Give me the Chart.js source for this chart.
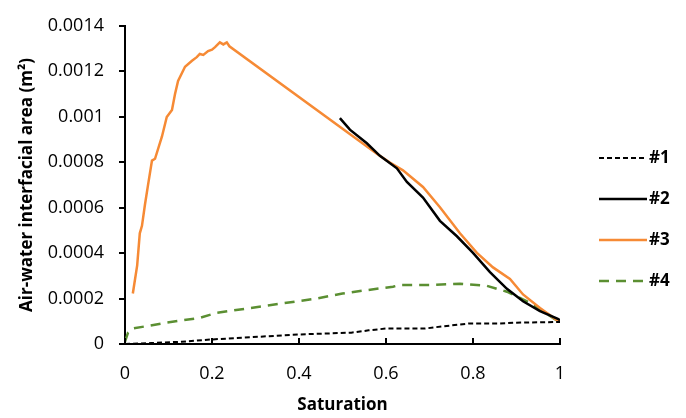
<!DOCTYPE html>
<html>
<head>
<meta charset="utf-8">
<script src="https://cdn.jsdelivr.net/npm/chart.js@4"></script>
<style>
  html, body { margin: 0; padding: 0; background: #fff; }
  #wrap { width: 686px; height: 418px; }
</style>
</head>
<body>
<div id="wrap"><canvas id="areaChart" width="686" height="418"></canvas></div>
<script>
// Series data (saturation vs. air-water interfacial area)
var labels = ["#1", "#2", "#3", "#4"];

var s1X = [0, 0.06, 0.13, 0.2, 0.29, 0.4, 0.52, 0.56, 0.6, 0.69, 0.71, 0.79, 0.86, 0.9, 1.0];
var s1Y = [0, 0.000004, 0.00001, 0.00002, 0.00003, 0.000042, 0.00005, 0.00006, 0.000068, 0.000068, 0.000073, 0.00009, 0.00009, 0.000094, 0.000097];

var s2X = [0.494, 0.517, 0.556, 0.586, 0.625, 0.648, 0.685, 0.724, 0.763, 0.8, 0.839, 0.878, 0.915, 0.954, 0.995, 1.0];
var s2Y = [0.000994, 0.000943, 0.000883, 0.000828, 0.000773, 0.000713, 0.000644, 0.000542, 0.000474, 0.000401, 0.000316, 0.000243, 0.000188, 0.000145, 0.000111, 0.000105];

var s3X = [0.018, 0.028, 0.034, 0.039, 0.046, 0.053, 0.062, 0.069, 0.085, 0.096, 0.108, 0.115, 0.122, 0.138, 0.154, 0.165, 0.172, 0.18, 0.191, 0.2, 0.207, 0.218, 0.226, 0.234, 0.24,
           0.579, 0.609, 0.639, 0.685, 0.724, 0.770, 0.809, 0.846, 0.885, 0.915, 0.954, 0.995, 1.0];
var s3Y = [0.000222, 0.000346, 0.000487, 0.00052, 0.000615, 0.0007, 0.000807, 0.000815, 0.000913, 0.000999, 0.00103, 0.0011, 0.001157, 0.00122, 0.001246, 0.001262, 0.001276, 0.001272, 0.001289, 0.001295, 0.001306, 0.001327, 0.001318, 0.001327, 0.00131,
           0.000837, 0.000798, 0.000764, 0.000691, 0.000602, 0.000487, 0.000401, 0.000337, 0.000286, 0.000218, 0.000158, 0.000102, 0.0001];

var s4X = [0, 0.007, 0.018, 0.096, 0.172, 0.21, 0.287, 0.363, 0.441, 0.5, 0.556, 0.616, 0.632, 0.708, 0.77, 0.832, 0.878, 0.924, 0.961, 0.995, 1.0];
var s4Y = [0.00001, 0.00005, 0.000068, 0.000094, 0.000115, 0.000137, 0.000158, 0.000179, 0.0002, 0.000222, 0.000237, 0.000252, 0.00026, 0.00026, 0.000265, 0.000256, 0.00023, 0.000188, 0.000145, 0.0001, 0.00009];

var xTicks = [0, 0.2, 0.4, 0.6, 0.8, 1];

function pts(xs, ys) {
    return xs.map(function (x, i) { return { x: x, y: ys[i] }; });
}

Chart.defaults.font.family = "'Open Sans', sans-serif";
Chart.defaults.color = "#000";

// x ticks point up into the plot, legend sits on the right
var extras = {
    id: 'extras',
    afterDraw: function (chart) {
        var ctx = chart.ctx;
        var xs = chart.scales.x;
        var area = chart.chartArea;
        ctx.save();
        ctx.strokeStyle = "#000";
        ctx.lineWidth = 2;
        xs.ticks.forEach(function (t) {
            var px = xs.getPixelForValue(t.value);
            ctx.beginPath();
            ctx.moveTo(px, area.bottom);
            ctx.lineTo(px, area.bottom - 6);
            ctx.stroke();
        });

        ctx.font = "bold 17px 'Open Sans', sans-serif";
        ctx.textBaseline = "middle";
        ctx.fillStyle = "#000";
        chart.data.datasets.forEach(function (ds, i) {
            var y = 158 + i * 41;
            ctx.beginPath();
            ctx.strokeStyle = ds.borderColor;
            ctx.lineWidth = ds.borderWidth;
            ctx.setLineDash(ds.borderDash || []);
            ctx.moveTo(599, y);
            ctx.lineTo(647, y);
            ctx.stroke();
            ctx.setLineDash([]);
            ctx.fillText(ds.label, 649, y);
        });
        ctx.restore();
    }
};

new Chart("areaChart", {
    type: "scatter",
    data: {
        datasets: [{
            label: labels[0],
            data: pts(s1X, s1Y),
            borderColor: "#000",
            borderWidth: 2,
            borderDash: [5, 3]
        }, {
            label: labels[1],
            data: pts(s2X, s2Y),
            borderColor: "#000",
            borderWidth: 2.5
        }, {
            label: labels[2],
            data: pts(s3X, s3Y),
            borderColor: "#F68A35",
            borderWidth: 2.5
        }, {
            label: labels[3],
            data: pts(s4X, s4Y),
            borderColor: "#5B8F32",
            borderWidth: 2.5,
            borderDash: [10, 7]
        }]
    },
    options: {
        responsive: false,
        animation: false,
        showLine: true,
        elements: {
            point: { radius: 0 },
            line: { tension: 0 }
        },
        layout: { padding: { left: 0, right: 126, top: 16, bottom: 0 } },
        plugins: {
            legend: { display: false },
            tooltip: { enabled: false }
        },
        scales: {
            x: {
                type: "linear",
                min: 0,
                max: 1,
                afterBuildTicks: function (s) { s.ticks = xTicks.map(function (v) { return { value: v }; }); },
                afterFit: function (s) { s.height = 74; },
                grid: { display: false },
                border: { display: true, color: "#000", width: 2 },
                ticks: {
                    padding: 11,
                    font: { size: 18 },
                    callback: function (v) { return String(parseFloat(v.toFixed(6))); }
                },
                title: {
                    display: true,
                    text: "Saturation",
                    font: { size: 17, weight: "bold" },
                    padding: { top: 0, bottom: 3 }
                }
            },
            y: {
                min: 0,
                max: 0.0014,
                ticks: {
                    stepSize: 0.0002,
                    padding: 15,
                    font: { size: 18 },
                    callback: function (v) { return String(parseFloat(v.toFixed(6))); }
                },
                afterFit: function (s) { s.width = 125; },
                grid: { drawOnChartArea: false, drawTicks: true, tickLength: 6, color: "#000", lineWidth: 2 },
                border: { display: true, color: "#000", width: 2 },
                title: {
                    display: true,
                    text: "Air-water interfacial area (m²)",
                    font: { size: 17, weight: "bold" },
                    padding: { top: 17, bottom: 0 }
                }
            }
        }
    },
    plugins: [extras]
});
</script>
</body>
</html>
